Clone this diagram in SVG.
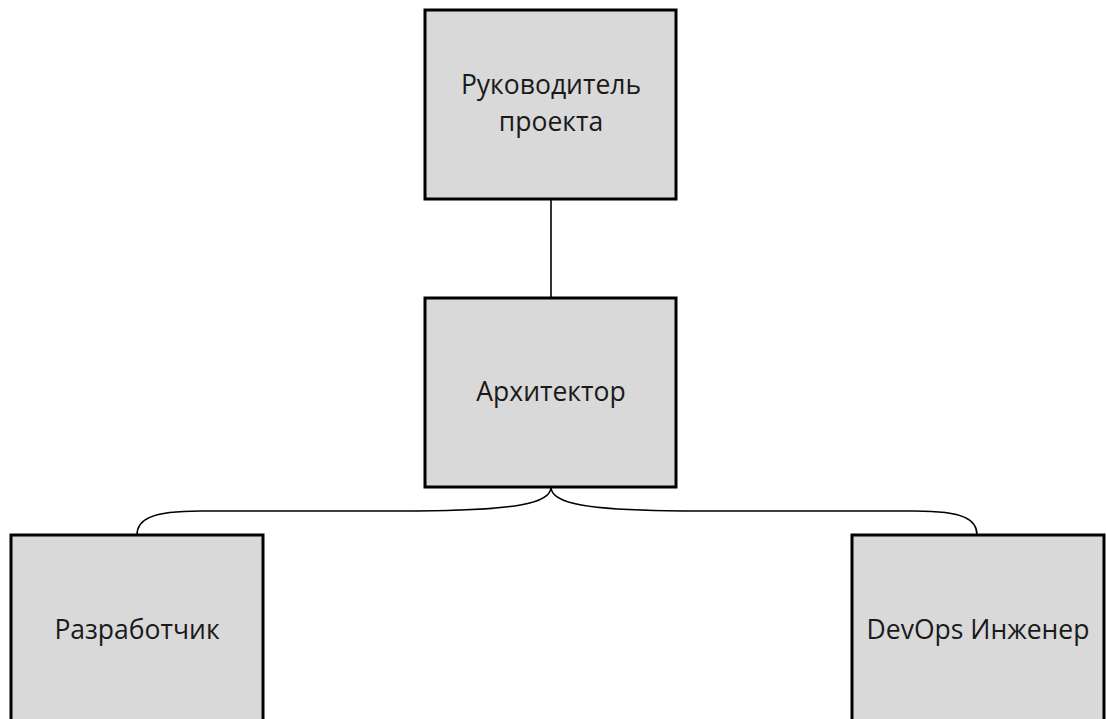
<svg xmlns="http://www.w3.org/2000/svg" width="1106" height="719" viewBox="0 0 1106 719">
<style>
.box{fill:#d9d9d9;stroke:#000;stroke-width:3}
.lbl{font-family:"Open Sans","Noto Sans",sans-serif;font-size:26.5px;fill:#1a1a1a;text-anchor:middle}
.conn{fill:none;stroke:#000;stroke-width:1.6}
</style>
<rect width="1106" height="719" fill="#fff"/>
<g id="connectors">
<path class="conn" d="M551,199 L551,298"/>
<path class="conn" d="M551,487 C551,503 520,511 400,511 L200,511 C150,511 137,520 137,535"/>
<path class="conn" d="M551,487 C551,503 582,511 700,511 L915,511 C965,511 977,520 977,535"/>
</g>
<g id="node-manager">
<rect class="box" x="425" y="10" width="251" height="189"/>
<text class="lbl" x="551" y="94">Руководитель</text>
<text class="lbl" x="551" y="131">проекта</text>
</g>
<g id="node-architect">
<rect class="box" x="425" y="298" width="251" height="189"/>
<text class="lbl" x="551" y="401">Архитектор</text>
</g>
<g id="node-developer">
<rect class="box" x="11" y="535" width="252" height="200"/>
<text class="lbl" x="137" y="639">Разработчик</text>
</g>
<g id="node-devops">
<rect class="box" x="852" y="535" width="252" height="200"/>
<text class="lbl" x="978" y="639">DevOps Инженер</text>
</g>
</svg>
